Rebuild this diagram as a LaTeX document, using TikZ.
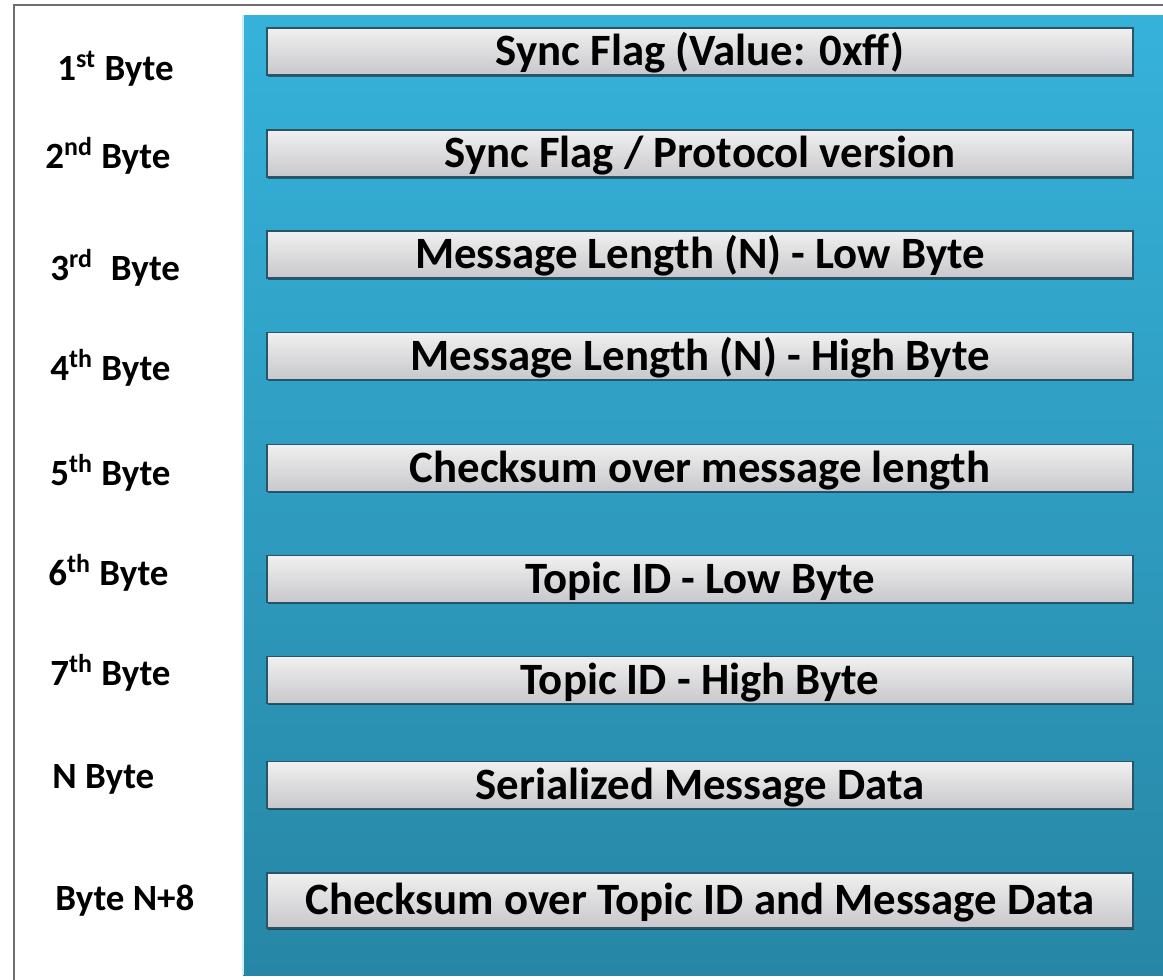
\documentclass[tikz,border=0pt]{standalone}
\usepackage{fontspec}
\setmainfont{Carlito}
\usetikzlibrary{shadows}
\definecolor{frameg}{HTML}{6E6E6E}
\definecolor{blueT}{HTML}{36B2DA}
\definecolor{blueB}{HTML}{2786A5}
\definecolor{barline}{HTML}{2B5566}
\definecolor{barT}{HTML}{F0F0F0}
\definecolor{barB}{HTML}{C8C8CC}
\begin{document}
\begin{tikzpicture}[x=0.5pt,y=-0.5pt,
  field/.style={draw=barline, line width=0.8pt, top color=barT, bottom color=barB,
    minimum width=433pt, minimum height=23.5pt, inner sep=0pt,
    text height=14pt, text depth=0pt,
    font=\fontsize{22.4}{26}\selectfont\bfseries,
    drop shadow={shadow xshift=0.7pt, shadow yshift=-0.9pt, opacity=0.45, fill=black}},
  bytelabel/.style={anchor=base west, inner sep=0pt, font=\fontsize{18.5}{21}\selectfont\bfseries}]
\useasboundingbox (0,0) rectangle (1163,980);
\fill[white] (0,0) rectangle (1163,980);
% blue panel
\shade[top color=blueT, bottom color=blueB] (243,15) rectangle (1163,975);
\draw[cyan!20!white, line width=0.8pt] (243,15) -- (243,975);
% outer frame
\draw[frameg, line width=1pt] (14,980) -- (14,5) -- (1163,5);
% fields
\node[field] (f1) at (700,51.5) {Sync Flag (Value: 0xff)};
\node[field] (f2) at (700,153.5) {Sync Flag / Protocol version};
\node[field] (f3) at (700,254.5) {Message Length (N) - Low Byte};
\node[field] (f4) at (700,356) {Message Length (N) - High Byte};
\node[field] (f5) at (700,468) {Checksum over message length};
\node[field] (f6) at (700,579) {Topic ID - Low Byte};
\node[field] (f7) at (700,680) {Topic ID - High Byte};
\node[field] (f8) at (700,785) {Serialized Message Data};
\node[field, minimum height=27.5pt] (f9) at (700,900.5) {Checksum over Topic ID and Message Data};
% byte labels
\node[bytelabel] (l1) at (57,80) {1\textsuperscript{st}\ Byte};
\node[bytelabel] (l2) at (45,168) {2\textsuperscript{nd}\ Byte};
\node[bytelabel] (l3) at (50,280) {3\textsuperscript{rd}\hspace{9pt}Byte};
\node[bytelabel] (l4) at (50,380) {4\textsuperscript{th}\ Byte};
\node[bytelabel] (l5) at (50,485) {5\textsuperscript{th}\ Byte};
\node[bytelabel] (l6) at (48,585) {6\textsuperscript{th}\ Byte};
\node[bytelabel] (l7) at (50,685) {7\textsuperscript{th}\ Byte};
\node[bytelabel] (l8) at (52,788) {N\ Byte};
\node[bytelabel] (l9) at (55,910) {Byte N+8};
\end{tikzpicture}
\end{document}
